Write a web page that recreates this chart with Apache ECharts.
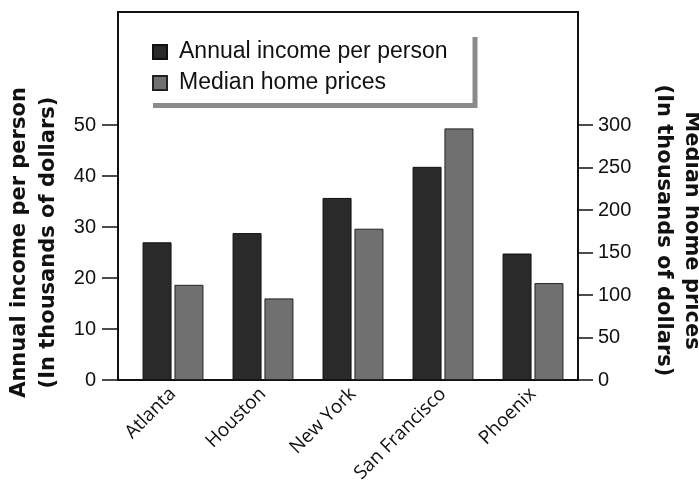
<!DOCTYPE html>
<html>
<head>
<meta charset="utf-8">
<script src="https://cdn.jsdelivr.net/npm/echarts@6/dist/echarts.min.js"></script>
<style>
  html, body { margin: 0; padding: 0; background: #fff; }
  #chart { width: 699px; height: 493px; }
</style>
</head>
<body>
<div id="chart"></div>
<script>
const cities = ['Atlanta', 'Houston', 'New York', 'San Francisco', 'Phoenix']
const incomeK = [27, 28.8, 35.7, 41.8, 24.8]        // thousands of dollars
const homePriceK = [112, 96, 178, 296, 114]         // thousands of dollars
const incomeTicks = { min: 0, max: 50, interval: 10 }
const priceTicks = { min: 0, max: 300, interval: 50 }

const chart = echarts.init(document.getElementById('chart'))

const tickFont = { color: '#111', fontSize: 20, fontFamily: 'Liberation Sans' }
const titleFont = { color: '#111', fontSize: 21, fontWeight: 'bold', fontFamily: 'DejaVu Sans', lineHeight: 29 }

const option = {
  backgroundColor: '#fff',
  animation: false,
  legend: {
    orient: 'vertical',
    left: 148,
    top: 32,
    padding: [7, 25, 7, 4],
    itemGap: 5,
    itemWidth: 14,
    itemHeight: 14,
    icon: 'rect',
    backgroundColor: '#fff',
    shadowColor: '#8a8a8a',
    shadowBlur: 0,
    shadowOffsetX: 5,
    shadowOffsetY: 5,
    textStyle: {
      color: '#111',
      fontSize: 23,
      fontFamily: 'Liberation Sans',
      lineHeight: 26,
      padding: [0, 0, 0, 7]
    },
    data: ['Annual income per person', 'Median home prices']
  },
  grid: [
    // outer frame
    { left: 118, right: 121, top: 12, bottom: 113, show: true, borderColor: '#111', borderWidth: 2, outerBoundsMode: 'none' },
    // plotting area
    { left: 128, right: 121, top: 125, bottom: 113, outerBoundsMode: 'none' }
  ],
  xAxis: {
    gridIndex: 1,
    type: 'category',
    data: cities,
    axisLine: { show: false },
    axisTick: { show: false },
    axisLabel: {
      rotate: 45,
      margin: 11,
      color: '#111',
      fontSize: 19,
      fontFamily: 'Open Sans'
    }
  },
  yAxis: [
    {
      gridIndex: 1,
      type: 'value',
      position: 'left',
      offset: 10,
      min: incomeTicks.min,
      max: incomeTicks.max,
      interval: incomeTicks.interval,
      name: 'Annual income per person\n(In thousands of dollars)',
      nameLocation: 'middle',
      nameRotate: 90,
      nameGap: 55,
      nameTextStyle: Object.assign({ padding: [0, 0, 0, 20] }, titleFont),
      axisLine: { show: false },
      axisTick: { show: true, length: 16, lineStyle: { color: '#111', width: 1.5 } },
      axisLabel: Object.assign({ margin: 22 }, tickFont),
      splitLine: { show: false }
    },
    {
      gridIndex: 1,
      type: 'value',
      position: 'right',
      min: priceTicks.min,
      max: priceTicks.max,
      interval: priceTicks.interval,
      name: 'Median home prices\n(In thousands of dollars)',
      nameLocation: 'middle',
      nameRotate: -90,
      nameGap: 71,
      nameTextStyle: Object.assign({}, titleFont, { lineHeight: 28, padding: [0, 44, 0, 0] }),
      axisLine: { show: false },
      axisTick: { show: true, length: 15, lineStyle: { color: '#111', width: 1.5 } },
      axisLabel: Object.assign({ margin: 20 }, tickFont),
      splitLine: { show: false }
    }
  ],
  series: [
    {
      name: 'Annual income per person',
      type: 'bar',
      xAxisIndex: 0,
      yAxisIndex: 0,
      data: incomeK,
      barWidth: 29,
      barGap: '10%',
      itemStyle: { color: '#2a2a2a', borderColor: '#111', borderWidth: 1 }
    },
    {
      name: 'Median home prices',
      type: 'bar',
      xAxisIndex: 0,
      yAxisIndex: 1,
      data: homePriceK,
      barWidth: 29,
      itemStyle: { color: '#707070', borderColor: '#222', borderWidth: 1 }
    }
  ]
}

chart.setOption(option)
</script>
</body>
</html>
